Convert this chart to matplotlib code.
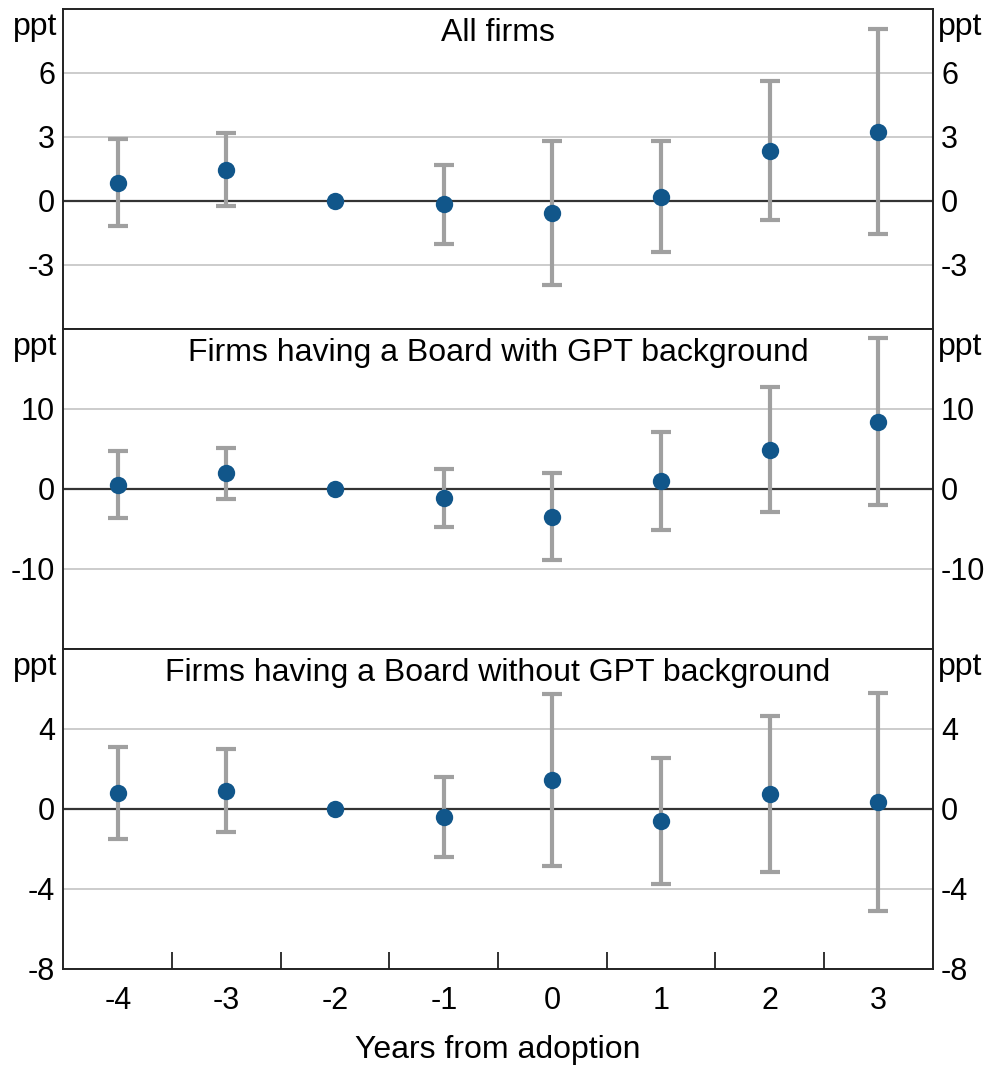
import matplotlib
matplotlib.use("Agg")
import matplotlib.pyplot as plt
import numpy as np
from matplotlib.ticker import FixedLocator

plt.rcParams['font.family'] = ['Liberation Sans', 'DejaVu Sans']
plt.rcParams['axes.unicode_minus'] = False

years = [-4, -3, -2, -1, 0, 1, 2, 3]

titles = ["All firms",
          "Firms having a Board with GPT background",
          "Firms having a Board without GPT background"]

all_est = [0.84, 1.47, 0.0, -0.16, -0.58, 0.20, 2.36, 3.23]
all_lo = [-1.19, -0.25, np.nan, -2.00, -3.95, -2.39, -0.89, -1.56]
all_hi = [2.89, 3.19, np.nan, 1.70, 2.80, 2.81, 5.64, 8.05]

gpt_est = [0.5, 2.0, 0.0, -1.13, -3.46, 0.96, 4.88, 8.42]
gpt_lo = [-3.67, -1.2, np.nan, -4.7, -8.9, -5.17, -2.92, -2.04]
gpt_hi = [4.8, 5.17, np.nan, 2.46, 2.0, 7.08, 12.7, 18.9]

nogpt_est = [0.82, 0.92, 0.0, -0.38, 1.47, -0.6, 0.75, 0.34]
nogpt_lo = [-1.48, -1.17, np.nan, -2.4, -2.83, -3.77, -3.17, -5.12]
nogpt_hi = [3.12, 2.98, np.nan, 1.62, 5.75, 2.57, 4.67, 5.79]

panels = [
    (all_est, all_lo, all_hi, (-6, 9), [-3, 0, 3, 6]),
    (gpt_est, gpt_lo, gpt_hi, (-20, 20), [-10, 0, 10]),
    (nogpt_est, nogpt_lo, nogpt_hi, (-8, 8), [-8, -4, 0, 4]),
]

dot_color = '#11568a'
bar_color = '#a0a0a0'
grid_color = '#c4c4c4'
fs_tick = 22
fs_text = 23

fig = plt.figure(figsize=(9.89, 10.71), dpi=100)
left, right = 63.5 / 989, 932.7 / 989
edges = [9, 329, 649, 969]

for i, (est, lo, hi, ylim, yt) in enumerate(panels):
    top = 1 - edges[i] / 1071
    bot = 1 - edges[i + 1] / 1071
    ax = fig.add_axes([left, bot, right - left, top - bot])
    ax.set_xlim(-4.5, 3.5)
    ax.set_ylim(*ylim)
    ax.yaxis.set_major_locator(FixedLocator(yt))
    ax.tick_params(axis='y', which='both', length=0, labelsize=fs_tick,
                   labelleft=True, labelright=True, pad=6)
    for t in yt:
        if t != 0:
            ax.axhline(t, color=grid_color, lw=1.2, zorder=1)
    ax.axhline(0, color='#333333', lw=1.6, zorder=2)

    x = np.array(years, dtype=float)
    e = np.array(est, dtype=float)
    l = np.array(lo, dtype=float)
    h = np.array(hi, dtype=float)
    m = np.isfinite(l) & np.isfinite(h)
    ax.errorbar(x[m], e[m], yerr=[e[m] - l[m], h[m] - e[m]], fmt='none',
                ecolor=bar_color, elinewidth=3, capsize=7, capthick=3,
                zorder=3)
    ax.plot(x, e, 'o', color=dot_color, markersize=12.5, zorder=4,
            markeredgewidth=0)

    ax.text(0.5, 0.972, titles[i], transform=ax.transAxes, ha='center',
            va='top', fontsize=fs_text)
    ax.text(-0.0075, 0.99, 'ppt', transform=ax.transAxes, ha='right',
            va='top', fontsize=fs_text)
    ax.text(1.0065, 0.99, 'ppt', transform=ax.transAxes, ha='left',
            va='top', fontsize=fs_text)

    for s in ax.spines.values():
        s.set_linewidth(1.4)
        s.set_color('#222222')

    if i < 2:
        ax.tick_params(axis='x', which='both', length=0, labelbottom=False)
    else:
        ax.set_xticks(years)
        ax.set_xticks([y + 0.5 for y in years[:-1]], minor=True)
        ax.tick_params(axis='x', which='major', length=0, labelsize=fs_tick,
                       pad=12)
        ax.tick_params(axis='x', which='minor', length=12, width=1.3,
                       direction='in', color='#222222')
        ax.set_xlabel('Years from adoption', fontsize=fs_text, labelpad=14)

fig.savefig('out.png', dpi=100)
